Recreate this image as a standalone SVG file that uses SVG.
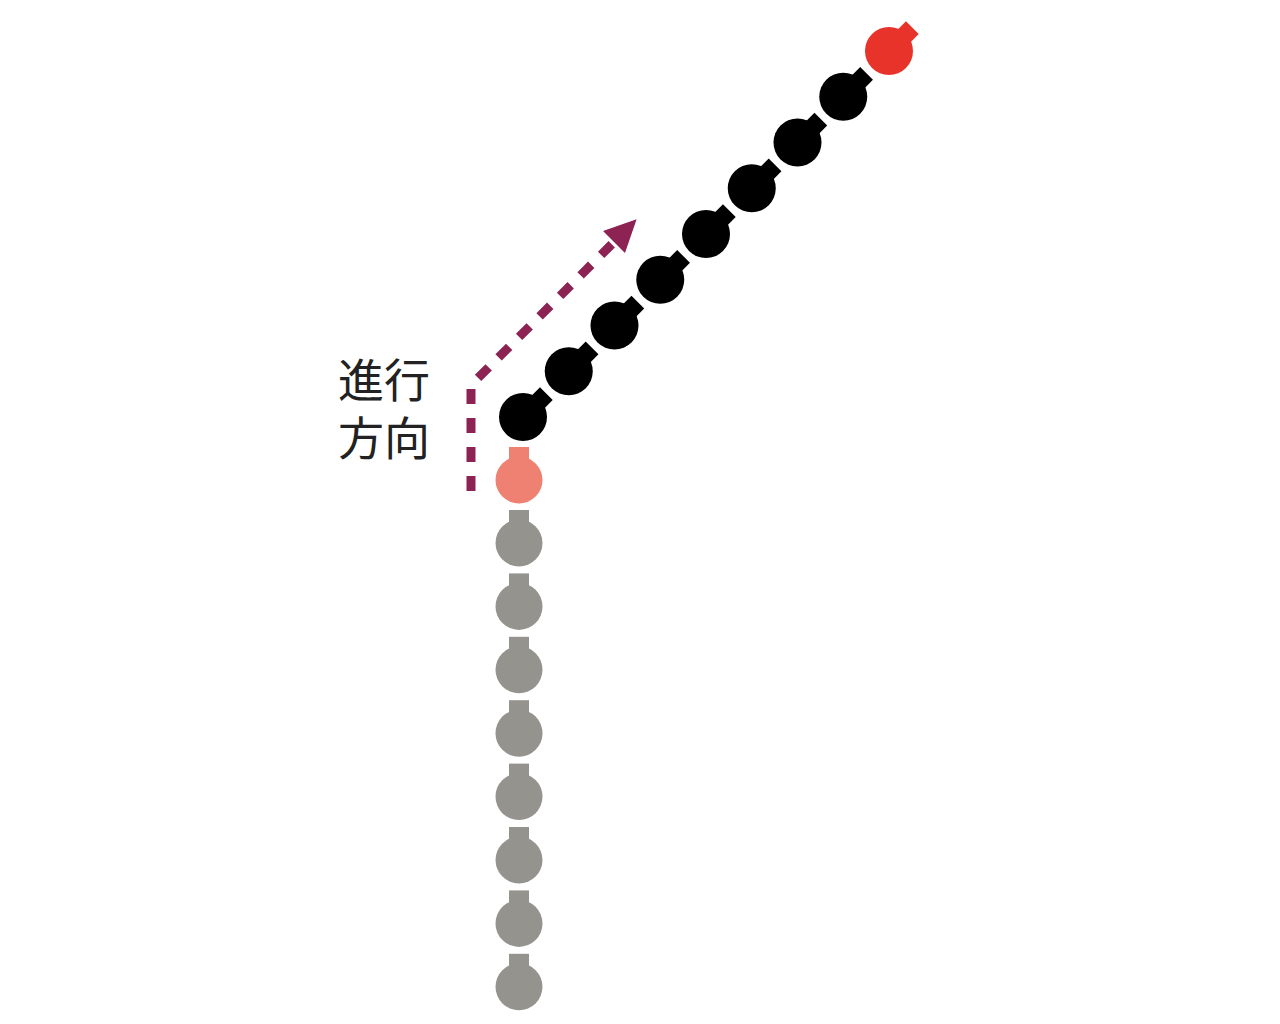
<svg xmlns="http://www.w3.org/2000/svg" xmlns:xlink="http://www.w3.org/1999/xlink" width="1280" height="1024" viewBox="0 0 1280 1024">
<style>
.gray{fill:#94938d}
.pink{fill:#ef8172}
.black{fill:#000}
.red{fill:#e8332b}
.lbl{font-family:"Noto Sans CJK JP","Noto Sans CJK SC",sans-serif;font-size:46px;fill:#222}
.dir{fill:none;stroke:#8c2352;stroke-width:9;stroke-dasharray:15 14}
</style>
<defs>
<g id="ball">
<rect x="-10" y="-33" width="20" height="20"/>
<circle r="23.5"/>
</g>
<g id="bball">
<rect x="-9" y="-33" width="18" height="20"/>
<circle r="24"/>
</g>
<marker id="ah" markerUnits="userSpaceOnUse" markerWidth="40" markerHeight="40" refX="0" refY="0" viewBox="-2 -20 40 40" orient="auto">
<path d="M0,-15.5 L32,0 L0,15.5 Z" fill="#8c2352"/>
</marker>
</defs>
<rect width="1280" height="1024" fill="#fff"/>
<g id="connectors">
<path class="dir" d="M471,491 L471,385 L614,242" marker-end="url(#ah)"/>
</g>
<g id="label">
<text class="lbl" x="338" y="397">進行<tspan x="338" y="455">方向</tspan></text>
</g>
<g id="gray-chain">
<use xlink:href="#ball" class="gray" transform="translate(519,543)"/>
<use xlink:href="#ball" class="gray" transform="translate(519,606.4)"/>
<use xlink:href="#ball" class="gray" transform="translate(519,669.8)"/>
<use xlink:href="#ball" class="gray" transform="translate(519,733.2)"/>
<use xlink:href="#ball" class="gray" transform="translate(519,796.6)"/>
<use xlink:href="#ball" class="gray" transform="translate(519,860)"/>
<use xlink:href="#ball" class="gray" transform="translate(519,923.4)"/>
<use xlink:href="#ball" class="gray" transform="translate(519,986.8)"/>
</g>
<g id="pink-ball">
<use xlink:href="#ball" class="pink" transform="translate(519,480)"/>
</g>
<g id="black-chain">
<use xlink:href="#bball" class="black" transform="translate(523,417) rotate(45)"/>
<use xlink:href="#bball" class="black" transform="translate(568.75,371.25) rotate(45)"/>
<use xlink:href="#bball" class="black" transform="translate(614.5,325.5) rotate(45)"/>
<use xlink:href="#bball" class="black" transform="translate(660.25,279.75) rotate(45)"/>
<use xlink:href="#bball" class="black" transform="translate(706,234) rotate(45)"/>
<use xlink:href="#bball" class="black" transform="translate(751.75,188.25) rotate(45)"/>
<use xlink:href="#bball" class="black" transform="translate(797.5,142.5) rotate(45)"/>
<use xlink:href="#bball" class="black" transform="translate(843.25,96.75) rotate(45)"/>
</g>
<g id="red-ball">
<use xlink:href="#bball" class="red" transform="translate(889,51) rotate(45)"/>
</g>
</svg>
